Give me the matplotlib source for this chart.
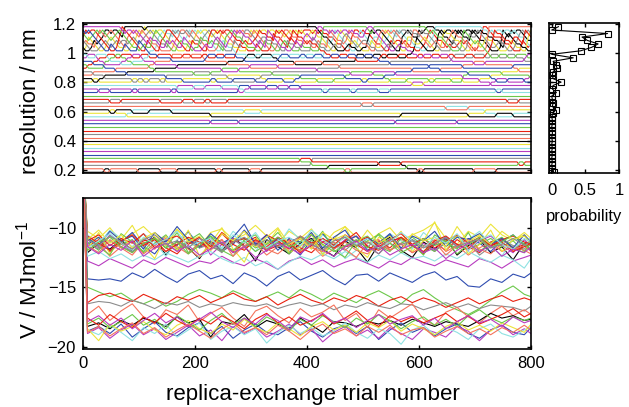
import numpy as np
import matplotlib.pyplot as plt

plt.rcParams['font.family'] = ['Liberation Sans', 'DejaVu Sans']
plt.rcParams['mathtext.fontset'] = 'custom'
plt.rcParams['mathtext.rm'] = 'Liberation Sans'

# resolution levels of the replicas (nm), bottom to top
levels = [0.185, 0.209, 0.232, 0.256, 0.280, 0.304, 0.327, 0.351, 0.375, 0.398,
          0.422, 0.446, 0.469, 0.493, 0.517, 0.540, 0.564, 0.588, 0.612, 0.635,
          0.659, 0.683, 0.706, 0.730, 0.754, 0.778, 0.801, 0.825, 0.849, 0.872,
          0.896, 0.920, 0.943, 0.967, 0.991, 1.015, 1.038, 1.062, 1.086, 1.109,
          1.133, 1.157, 1.180]

# exchange probability per level (right panel)
prob = [0.03, 0.01, 0.00, 0.01, 0.00, 0.01, 0.00, 0.01, 0.00, 0.01,
        0.00, 0.01, 0.01, 0.00, 0.01, 0.01, 0.00, 0.02, 0.06, 0.01,
        0.02, 0.01, 0.00, 0.07, 0.01, 0.02, 0.14, 0.02, 0.01, 0.02,
        0.08, 0.06, 0.02, 0.32, 0.00, 0.43, 0.59, 0.69, 0.53, 0.45,
        0.83, 0.00, 0.10]

# accepted swaps between level k and k+1 over the 800 trials
# (80 chars -> one per 10 trials, 160 chars -> one per 5 trials)
swap_steps = {
    0: "0001100001 0001001000 0001100001 0100000000 0000001100 0000000001 1000000001 0001000000",
    1: "0000000000 0000000000 0000000000 0000000000 0001000000 0000000100 0000000000 0000000000",
    2: "0000000000 0000000000 0000000000 0000000000 1000000000 0010001000 0000000000 0000000110",
    3: "0000000000 0000000000 0000000000 0000000010 1000000000 0000000000 0000000000 0000000000",
    14: "0000000000 0000000000 0010000100 0000000000 0000000000 0000010000 0000001000 0000000000",
    16: "0000000100 0000000000 0010000000 0000000000 0000000000 0000001000 0000000010 0001001000",
    17: "0000110010 0100010000 0000000010 0100000000 0000000000 0000000000 0000000000 0100000000",
    18: "0000000000 0000000000 0000000000 0000000000 0000000000 0000000000 0000100010 0000000000",
    19: "0000000000 0000000000 0000000000 0000000000 0000000001 0100000000 0000000000 0000000000",
    20: "0000101000 0001000101 0110010000 0000000000 0000000000 0000000000 0000000000 0000010100",
    23: "0010100011 0000011000 0000000110 0000000000 0011000110 0010100000 0000000000 0001100000",
    24: "0000000000 0000001001 0100100101 0010101010 0000000000 0000000000 0000000000 0000000000",
    25: "0000000000 0000000000 0000000000 0000000000 0000000000 0000000010 1000000000 0010000000",
    26: "0110000011 1101100100 0011001000 1010010100 0100100001 1000100100 0110010100 1001010010",
    27: "0001000000 0000100000 0000010000 0100000010 0000001000 0001000000 0000000100 0010000001",
    28: "0100000100 0000000001 0010000000 0001000000 0000000100 0100010000 0000000010 0000100000",
    29: "0000010000 0010000000 0000100100 0000000000 0100000000 0000000010 0001000000 0000000100",
    30: "1001000000 0100001000 0000000001 0000100000 0000010000 0000000000 0100000100 0000001000",
    31: "0101001010 0010000000 0000010000 0000000100 0010000000 0000100000 0000000001 0100000000",
    32: "0010100100 1000010000 0100000010 0000100000 0000000010 0010000000 0000010000 0000000010",
    33: "0100100010 0101000100 1001001000 0100010010 0010100100 1000100010 0101000100 1001000101 "
        "0010010010 0100100100 1001001010 0010010001 0100100100 1010001001 0001010010 0100100010",
    34: "0000000000 0000000000 0001000000 0000000000 0000000000 0000100000 0000000000 0000000000 "
        "0000001000 0000000000 0000000000 0000000100 0000000000 0000000000 0000100000 0000000000",
    35: "1010010101 0100101001 1010010100 0101001011 0010100101 1001010010 0101001010 1010100100 "
        "0100101010 1001010101 0010100101 0101010010 1010010100 0100101011 1001010010 0101001010",
    36: "0101101011 1010110101 0110101101 1011010110 0101101011 1101011010 0110110101 1011010110 "
        "0101101101 1010110110 0110101011 1011011010 0101101101 1101010110 0110110101 1010101011",
    37: "1101110110 0111011011 1011101101 1110110111 0110111011 1101101110 1011110101 0111011011 "
        "1101101110 1011011101 0111101101 1101110110 1011011011 0110111101 1101101011 1011101110",
    38: "0110101001 1010010110 0101101010 1001011001 0110100110 1010101001 0101010110 1001101010 "
        "0110010101 1010110010 0101011010 1001010101 0110101010 1010010110 0101101001 1001010110",
    39: "1001010110 0101101001 1010010101 0110100110 1001011001 0101100101 1010010110 0110101001 "
        "1001010101 0101101010 1010010101 0110100101 1001011010 0101010110 1010101001 0110010101",
    40: "1110111101 1011110111 1101111011 0111101111 1110110111 1011111101 1111011011 1101111110 "
        "0111110111 1110111011 1011101111 1111011101 1101110111 0111111011 1110111101 1011101111",
    41: "0000000000 0001100000 0110000000 0000000000 0000000000 0000000000 0000000000 0000000000 "
        "0001010000 0000000000 0101000000 0000000000 0010010000 0000000000 0010100000 0000000000",
}
swap_trials = np.arange(0, 801, 5)

# potential energy traces (MJ/mol), sampled at e_trials
e_trials = np.r_[0, np.arange(8, 800, 20), 800]
v_start = -4.0

v_upper = [
    [-12.1, -11.3, -11.8, -11.0, -12.0, -11.4, -10.8, -12.3, -11.1, -11.7,
     -12.6, -11.2, -11.9, -10.9, -11.5, -12.8, -11.0, -11.6, -12.2, -11.3,
     -10.9, -11.8, -12.4, -11.1, -11.7, -12.9, -11.4, -10.8, -11.9, -12.5,
     -11.2, -11.8, -10.9, -12.3, -11.5, -11.0, -12.1, -11.6, -12.7, -11.3, -11.9],
    [-10.3, -10.9, -10.0, -11.2, -10.5, -9.9, -10.8, -11.4, -10.2, -10.9,
     -11.6, -10.4, -10.1, -11.0, -10.6, -9.8, -10.7, -11.3, -10.3, -10.9,
     -10.1, -11.5, -10.4, -9.9, -10.8, -11.2, -10.5, -10.0, -11.1, -10.6,
     -10.2, -9.6, -10.9, -11.4, -10.3, -10.8, -9.7, -10.6, -11.1, -10.4, -10.9],
    [-10.6, -11.4, -10.2, -10.9, -11.6, -10.5, -11.2, -12.4, -11.0, -10.4,
     -11.3, -10.8, -11.7, -10.3, -11.1, -12.0, -10.7, -11.5, -10.1, -11.0,
     -11.8, -10.6, -11.3, -12.6, -11.9, -10.8, -11.4, -10.5, -11.1, -11.8,
     -10.4, -11.2, -10.7, -11.6, -11.0, -10.3, -11.5, -12.4, -10.9, -11.3, -10.8],
    [-11.0, -11.7, -10.6, -11.3, -12.1, -10.9, -11.5, -10.7, -11.9, -11.2,
     -10.8, -12.3, -11.4, -10.9, -11.6, -11.1, -12.0, -10.8, -11.4, -11.9,
     -10.6, -11.2, -11.8, -11.0, -10.7, -11.5, -12.2, -11.1, -10.9, -11.6,
     -11.3, -12.0, -10.8, -11.4, -11.9, -11.1, -10.7, -11.5, -12.1, -11.0, -11.6],
    [-11.4, -10.8, -11.9, -11.2, -10.4, -11.6, -12.2, -11.0, -11.5, -10.3,
     -11.7, -11.1, -12.0, -11.4, -10.2, -11.3, -11.8, -10.9, -11.5, -12.3,
     -11.0, -10.5, -11.6, -11.2, -10.7, -11.9, -11.3, -10.6, -11.7, -11.0,
     -12.1, -11.4, -10.8, -11.6, -10.9, -11.3, -12.0, -11.1, -10.6, -11.5, -11.9],
    [-11.2, -11.9, -10.7, -11.4, -11.0, -12.1, -11.3, -10.6, -11.8, -11.1,
     -10.5, -11.6, -12.0, -11.2, -10.9, -11.7, -11.3, -10.4, -11.5, -11.9,
     -11.0, -12.2, -11.4, -10.8, -11.6, -11.1, -10.6, -11.9, -11.3, -10.8,
     -11.5, -12.0, -11.2, -10.7, -11.8, -11.4, -10.9, -11.6, -11.1, -12.0, -11.3],
    [-11.6, -11.0, -12.0, -11.3, -11.8, -11.1, -10.9, -11.7, -12.2, -11.2,
     -11.6, -10.9, -11.4, -12.0, -11.3, -10.8, -11.9, -11.5, -11.0, -11.7,
     -12.1, -11.2, -10.9, -11.6, -11.4, -12.0, -11.1, -11.7, -10.8, -11.5,
     -12.2, -11.3, -11.9, -11.0, -11.6, -12.1, -11.2, -10.9, -11.8, -11.4, -11.1],
    [-11.9, -11.3, -12.4, -11.6, -11.1, -12.2, -11.5, -12.0, -11.2, -11.8,
     -12.5, -11.4, -11.0, -12.1, -11.7, -11.3, -12.3, -11.6, -11.1, -12.0,
     -11.5, -12.4, -11.8, -11.2, -11.9, -12.2, -11.4, -11.9, -11.3, -12.1,
     -11.6, -11.0, -12.0, -11.5, -12.3, -11.7, -11.2, -12.0, -11.6, -11.9, -12.2],
    [-11.3, -11.8, -11.1, -11.6, -12.0, -11.4, -10.9, -11.5, -11.9, -11.2,
     -11.7, -11.4, -12.1, -11.0, -11.6, -11.3, -11.8, -11.1, -12.0, -11.5,
     -11.2, -11.7, -11.4, -11.9, -11.1, -11.6, -12.2, -11.3, -11.8, -11.0,
     -11.5, -11.9, -11.3, -11.7, -11.2, -12.3, -11.6, -11.0, -11.5, -11.8, -11.2],
    [-12.8, -13.2, -12.6, -13.0, -13.4, -12.7, -13.1, -12.5, -12.9, -13.3,
     -12.8, -13.0, -12.4, -12.9, -13.2, -12.6, -13.0, -13.5, -12.8, -12.5,
     -13.1, -12.7, -13.3, -12.9, -12.6, -13.0, -13.4, -12.8, -13.1, -12.5,
     -12.9, -13.2, -12.7, -13.0, -13.3, -12.6, -12.9, -13.4, -12.8, -12.5, -12.3],
    [-14.3, -14.4, -14.3, -14.5, -13.8, -14.2, -13.5, -14.1, -14.6, -13.9,
     -13.6, -14.3, -14.0, -14.7, -13.8, -14.2, -14.9, -14.1, -13.7, -14.4,
     -14.0, -13.6, -14.3, -14.8, -14.0, -13.9, -14.5, -13.8, -14.2, -14.6,
     -14.0, -13.7, -14.4, -14.1, -14.9, -15.0, -14.3, -14.6, -13.9, -14.2, -13.8],
    [-12.4, -12.0, -12.6, -12.2, -12.8, -12.3, -12.7, -12.1, -12.5, -12.9,
     -12.4, -12.0, -12.6, -13.0, -12.5, -13.2, -12.8, -13.5, -12.9, -12.4,
     -12.7, -12.2, -12.6, -12.0, -12.5, -12.9, -12.3, -12.7, -12.1, -12.6,
     -12.4, -12.8, -12.2, -12.6, -12.0, -12.5, -12.9, -12.3, -12.7, -13.4, -12.6],
    [-11.8, -10.4, -12.2, -11.0, -9.8, -11.5, -12.6, -10.7, -11.9, -10.2,
     -12.4, -11.3, -10.0, -11.8, -12.9, -10.9, -11.4, -10.1, -12.1, -11.6,
     -10.5, -12.3, -11.0, -9.9, -11.7, -12.5, -10.8, -11.3, -10.3, -12.0,
     -11.1, -9.5, -11.9, -10.6, -12.2, -11.4, -10.2, -12.0, -11.0, -10.6, -11.5],
    [-10.8, -11.6, -12.3, -10.5, -11.2, -12.0, -10.9, -11.7, -10.4, -12.1,
     -11.3, -10.7, -11.9, -12.4, -11.0, -10.6, -11.8, -11.2, -12.2, -10.8,
     -11.5, -10.3, -11.9, -12.5, -11.1, -10.7, -11.6, -12.0, -10.9, -11.4,
     -12.3, -10.6, -11.2, -11.8, -10.4, -12.0, -11.3, -10.8, -11.7, -12.1, -11.0],
    [-11.1, -10.6, -11.5, -10.9, -11.3, -10.5, -11.7, -11.0, -10.7, -11.4,
     -10.8, -11.6, -10.4, -11.2, -10.9, -11.5, -10.6, -11.1, -11.8, -10.7,
     -11.3, -10.9, -11.5, -10.6, -11.2, -10.8, -11.6, -11.0, -10.5, -11.4,
     -10.9, -11.7, -11.1, -10.6, -11.3, -10.8, -11.5, -11.0, -10.7, -11.2, -11.4],
    [-10.9, -11.5, -10.3, -11.1, -10.7, -11.8, -10.4, -11.2, -9.9, -11.0,
     -11.6, -10.5, -11.3, -10.8, -9.7, -11.4, -10.6, -11.9, -10.9, -11.2,
     -10.4, -11.7, -10.8, -10.2, -11.5, -10.9, -11.3, -10.5, -11.8, -10.7,
     -11.1, -10.3, -11.6, -10.8, -11.0, -10.5, -11.4, -10.9, -11.7, -10.6, -11.2],
    [-11.5, -12.1, -11.0, -11.7, -12.3, -11.2, -11.8, -10.9, -11.6, -12.2,
     -11.3, -11.9, -11.0, -12.4, -11.5, -11.1, -11.8, -12.2, -11.4, -10.9,
     -11.7, -12.0, -11.2, -11.8, -12.5, -11.3, -11.0, -11.9, -11.4, -12.1,
     -11.6, -11.2, -12.3, -11.5, -11.0, -11.8, -12.2, -11.3, -11.9, -11.5, -12.0],
    [-10.7, -11.3, -11.9, -11.1, -10.6, -11.5, -11.0, -12.0, -11.4, -10.8,
     -11.2, -11.8, -10.5, -11.4, -11.9, -11.0, -11.6, -10.8, -11.3, -12.1,
     -11.5, -10.9, -11.7, -11.1, -10.4, -11.6, -11.9, -11.2, -10.8, -11.5,
     -12.0, -11.1, -10.7, -11.4, -11.8, -10.9, -11.5, -11.2, -12.0, -11.6, -11.3],
    [-11.9, -11.2, -10.8, -11.6, -12.1, -11.3, -10.9, -11.7, -11.2, -12.2,
     -11.5, -10.7, -11.3, -11.9, -11.1, -12.0, -11.4, -10.8, -11.6, -11.2,
     -10.6, -11.4, -12.0, -11.5, -11.0, -11.7, -10.5, -11.3, -12.1, -11.6,
     -10.9, -11.5, -11.1, -12.2, -11.4, -10.8, -11.7, -11.2, -10.6, -11.4, -11.8],
    [-11.0, -10.2, -11.3, -10.6, -11.7, -10.9, -10.4, -11.5, -10.1, -11.2,
     -10.7, -11.9, -10.5, -11.1, -10.3, -11.6, -10.8, -10.0, -11.4, -10.9,
     -11.8, -10.4, -11.0, -10.6, -11.5, -10.2, -11.3, -10.7, -11.9, -10.5,
     -11.1, -10.8, -11.6, -9.9, -11.2, -10.6, -11.4, -10.3, -11.0, -10.7, -11.3],
    [-11.7, -11.1, -10.5, -11.3, -11.9, -10.8, -11.4, -11.0, -10.3, -11.6,
     -11.2, -10.9, -11.8, -10.6, -11.3, -10.4, -11.7, -11.1, -10.8, -11.5,
     -10.2, -11.0, -11.6, -10.7, -11.4, -10.9, -11.8, -11.2, -10.4, -11.1,
     -11.7, -10.8, -11.3, -10.5, -11.9, -11.0, -10.6, -11.4, -11.8, -10.9, -11.2],
    [-11.6, -12.2, -11.4, -11.9, -11.1, -12.4, -11.7, -11.3, -12.0, -11.5,
     -12.3, -11.8, -11.2, -12.1, -11.6, -12.5, -11.9, -11.3, -11.7, -12.2,
     -11.4, -11.9, -12.4, -11.6, -11.1, -12.0, -11.5, -12.3, -11.8, -11.4,
     -12.1, -11.7, -12.6, -11.9, -11.3, -12.0, -11.5, -12.4, -11.8, -12.1, -11.6],
    [-11.0, -11.5, -10.7, -11.2, -11.8, -11.0, -10.6, -11.4, -11.1, -11.7,
     -10.9, -11.3, -11.9, -11.2, -10.8, -11.5, -11.0, -11.6, -11.3, -10.7,
     -11.4, -11.9, -11.1, -10.8, -11.5, -11.2, -11.8, -10.9, -11.4, -11.1,
     -11.7, -11.3, -10.8, -11.6, -11.2, -11.0, -11.7, -11.4, -10.9, -11.5, -11.1],
]
v_upper_colors = ['black', 'yellow', 'cyan', 'purple', 'blue', 'green', 'red', 'salmon',
                  'grey', 'purple', 'blue', 'cyan', 'yellow', 'green', 'red', 'blue',
                  'salmon', 'red', 'green', 'yellow', 'cyan', 'purple', 'grey']

v_lower = [
    [-15.0, -15.4, -15.8, -15.5, -16.1, -16.4, -16.0, -16.6, -16.2, -15.6,
     -15.2, -15.5, -15.9, -15.3, -15.7, -16.2, -15.8, -15.4, -15.9, -15.2,
     -15.6, -16.1, -15.5, -15.9, -16.3, -15.7, -15.3, -15.8, -16.4, -15.6,
     -15.2, -15.9, -16.5, -16.9, -17.3, -16.8, -16.1, -15.4, -14.9, -15.6, -15.8],
    [-16.3, -15.7, -15.5, -15.9, -16.2, -15.6, -16.0, -16.4, -15.8, -16.1,
     -15.7, -16.3, -15.9, -15.5, -16.0, -16.2, -15.8, -16.5, -16.0, -15.6,
     -16.1, -16.4, -15.9, -16.2, -15.7, -16.0, -16.6, -16.1, -15.8, -16.3,
     -15.9, -16.2, -16.7, -16.3, -15.9, -16.4, -16.0, -15.7, -16.2, -15.9, -16.1],
    [-16.4, -16.2, -16.3, -16.6, -16.1, -16.4, -16.8, -16.3, -16.5, -16.2,
     -16.7, -16.4, -16.6, -16.3, -16.5, -16.6, -16.4, -16.8, -16.5, -16.3,
     -16.6, -16.4, -16.9, -16.5, -16.7, -16.3, -16.6, -16.8, -16.4, -16.5,
     -16.9, -16.6, -16.3, -16.7, -16.4, -16.8, -16.5, -16.6, -16.7, -17.0, -16.6],
    [-17.3, -16.6, -17.8, -17.0, -16.4, -17.5, -18.1, -16.9, -17.3, -16.5,
     -17.9, -17.2, -16.7, -17.6, -18.3, -17.0, -16.6, -17.4, -18.0, -16.8,
     -17.5, -17.1, -16.5, -17.8, -17.2, -18.4, -16.9, -17.6, -17.0, -16.4,
     -17.7, -18.2, -17.1, -16.7, -17.5, -18.0, -17.2, -16.6, -17.4, -16.9, -17.3],
    [-18.3, -18.0, -18.5, -17.8, -18.2, -17.6, -17.9, -18.3, -17.5, -18.0,
     -17.7, -19.2, -17.9, -18.1, -17.3, -18.4, -17.8, -18.1, -18.5, -17.6,
     -18.2, -18.8, -17.9, -18.0, -18.3, -17.9, -18.1, -17.8, -18.2, -17.7,
     -18.0, -18.3, -17.9, -18.1, -18.3, -17.8, -17.2, -17.6, -17.4, -17.8, -17.7],
    [-18.7, -18.3, -18.9, -18.1, -19.2, -18.5, -17.9, -18.8, -19.1, -18.4,
     -18.0, -18.9, -18.3, -19.3, -18.6, -18.1, -18.8, -19.0, -18.4, -17.9,
     -18.7, -19.2, -18.5, -18.2, -18.9, -18.3, -19.4, -18.6, -18.0, -18.8,
     -18.4, -19.1, -18.5, -18.1, -18.9, -19.3, -18.6, -18.2, -18.8, -19.0, -18.4],
    [-18.9, -18.4, -19.3, -18.6, -18.1, -19.0, -18.5, -19.4, -18.8, -18.2,
     -19.1, -18.6, -19.5, -18.3, -18.9, -18.4, -19.2, -18.7, -18.1, -19.0,
     -18.5, -19.6, -18.8, -18.3, -19.1, -18.6, -19.3, -18.4, -18.9, -19.4,
     -18.5, -18.8, -19.2, -18.3, -18.7, -19.5, -18.6, -18.2, -19.0, -18.5, -18.9],
    [-18.6, -19.0, -18.2, -18.8, -19.5, -18.4, -18.9, -18.1, -19.2, -18.6,
     -18.0, -19.4, -18.7, -18.3, -19.0, -18.5, -19.7, -18.8, -18.2, -18.9,
     -18.4, -19.1, -18.7, -18.0, -18.8, -19.3, -18.5, -18.9, -19.8, -18.6,
     -18.2, -19.0, -18.4, -18.8, -19.4, -18.5, -18.1, -18.9, -19.2, -18.6, -18.3],
    [-18.5, -19.5, -18.1, -18.7, -18.3, -17.9, -18.6, -19.0, -18.2, -17.8,
     -18.5, -18.9, -18.1, -18.6, -17.7, -18.4, -18.8, -18.0, -18.5, -19.1,
     -18.3, -17.9, -18.6, -18.2, -18.8, -18.0, -18.4, -17.8, -18.7, -18.1,
     -18.5, -19.0, -18.3, -17.9, -18.6, -18.2, -18.7, -18.0, -18.4, -18.8, -18.1],
    [-18.1, -17.6, -18.4, -17.9, -17.3, -18.2, -17.7, -18.5, -17.4, -18.0,
     -18.6, -17.8, -17.2, -18.1, -17.6, -18.3, -17.5, -18.0, -18.7, -17.7,
     -18.2, -17.4, -17.9, -18.4, -17.6, -18.1, -17.3, -17.8, -18.5, -17.9,
     -17.5, -18.2, -17.7, -18.3, -17.4, -16.9, -17.6, -18.0, -17.5, -17.8, -17.6],
    [-17.6, -18.2, -17.3, -17.9, -18.4, -17.5, -18.0, -17.2, -17.8, -18.3,
     -17.6, -18.1, -17.4, -17.9, -18.5, -17.7, -17.2, -18.0, -17.5, -18.2,
     -17.8, -17.3, -18.1, -17.6, -17.0, -17.8, -18.3, -17.4, -17.9, -17.5,
     -18.0, -17.6, -17.2, -17.9, -17.4, -18.1, -17.7, -17.3, -16.8, -17.5, -17.2],
    [-17.9, -17.4, -18.2, -17.6, -18.5, -17.8, -17.2, -18.0, -17.5, -18.3,
     -17.7, -17.1, -17.9, -18.4, -17.6, -18.1, -17.3, -17.8, -18.6, -17.5,
     -17.9, -17.2, -18.0, -17.6, -18.4, -17.8, -17.3, -18.1, -17.7, -17.4,
     -18.2, -17.6, -18.5, -17.9, -17.4, -18.0, -17.7, -18.3, -17.5, -18.0, -17.8],
    [-18.8, -18.3, -19.1, -18.5, -18.0, -18.9, -18.4, -19.2, -18.6, -18.1,
     -18.7, -19.3, -18.5, -18.0, -18.8, -18.4, -19.0, -18.2, -18.7, -19.4,
     -18.6, -18.1, -18.9, -18.5, -19.1, -18.3, -18.8, -18.2, -19.0, -18.6,
     -18.4, -19.2, -18.7, -18.3, -18.9, -18.5, -19.0, -18.4, -18.8, -18.2, -18.6],
]
v_lower_colors = ['green', 'red', 'grey', 'salmon', 'black', 'blue', 'purple',
                  'cyan', 'yellow', 'green', 'red', 'purple', 'salmon']

palette = {'black': '#000000', 'salmon': '#f4735c', 'grey': '#8c8c8c', 'red': '#e8200f',
           'green': '#6cc84a', 'blue': '#2f4cb0', 'purple': '#b83cc0', 'cyan': '#8ee2e2',
           'yellow': '#ece43a'}
rep_cycle = ['black', 'salmon', 'grey', 'red', 'green', 'blue', 'purple', 'cyan', 'yellow']

fig = plt.figure(figsize=(6.29, 4.07), dpi=100)
W, H = 629, 407
ax_r = fig.add_axes([83 / W, 1 - 173 / H, 448 / W, 150 / H])
ax_p = fig.add_axes([549 / W, 1 - 173 / H, 70 / W, 150 / H])
ax_v = fig.add_axes([83 / W, 1 - 349 / H, 448 / W, 151 / H])

# replica trajectories in resolution space
n_lev = len(levels)
seq = {k: s.replace(' ', '') for k, s in swap_steps.items()}
at_level = list(range(n_lev))
track = np.zeros((n_lev, len(swap_trials)), dtype=int)
track[:, 0] = np.arange(n_lev)
for j in range(1, len(swap_trials)):
    t = swap_trials[j]
    for k in sorted(seq):
        s = seq[k]
        dt = 800 // len(s)
        if t % dt == 0 and s[t // dt - 1] == '1':
            at_level[k], at_level[k + 1] = at_level[k + 1], at_level[k]
    for k, r in enumerate(at_level):
        track[r, j] = k
lev = np.array(levels)
for r in range(n_lev):
    ax_r.plot(swap_trials, lev[track[r]], color=palette[rep_cycle[r % 9]], lw=0.8)

ax_r.set_xlim(0, 800)
ax_r.set_ylim(0.18, 1.205)
ax_r.set_xticks([0, 200, 400, 600, 800])
ax_r.set_yticks([0.2, 0.4, 0.6, 0.8, 1.0, 1.2])
ax_r.set_yticklabels(['0.2', '0.4', '0.6', '0.8', '1', '1.2'])
ax_r.tick_params(labelbottom=False)
ax_r.set_ylabel('resolution / nm', fontsize=16)
ax_r.yaxis.set_label_coords(-0.094, 0.48)

# probability panel
ax_p.plot(prob, levels, '-s', color='black', lw=0.8, ms=4.5, mfc='none', mew=0.8)
ax_p.set_xlim(-0.04, 1.0)
ax_p.set_ylim(0.18, 1.205)
ax_p.set_xticks([0, 0.5, 1])
ax_p.set_xticklabels(['0', '0.5', '1'])
ax_p.set_yticks([0.2, 0.4, 0.6, 0.8, 1.0, 1.2])
ax_p.tick_params(labelleft=False)
ax_p.set_xlabel('probability', fontsize=12)
ax_p.xaxis.set_label_coords(0.5, -0.24)

# potential energy traces
for vals, c in zip(v_upper + v_lower, v_upper_colors + v_lower_colors):
    ax_v.plot(e_trials[:len(vals) + 1], [v_start] + vals, color=palette[c], lw=0.8)

ax_v.set_xlim(0, 800)
ax_v.set_ylim(-20.2, -7.5)
ax_v.set_xticks([0, 200, 400, 600, 800])
ax_v.set_yticks([-20, -15, -10])
ax_v.set_xlabel('replica-exchange trial number', fontsize=16)
ax_v.xaxis.set_label_coords(0.512, -0.235)
ax_v.set_ylabel('V / MJmol$^{\\mathregular{-1}}$', fontsize=16)
ax_v.yaxis.set_label_coords(-0.092, 0.46)

for ax in (ax_r, ax_p, ax_v):
    ax.tick_params(direction='in', top=True, right=True, length=3, width=1,
                   labelsize=12, pad=5)
    for sp in ax.spines.values():
        sp.set_linewidth(1.2)
ax_p.tick_params(axis='x', pad=7)

fig.savefig('out.png', dpi=100)
